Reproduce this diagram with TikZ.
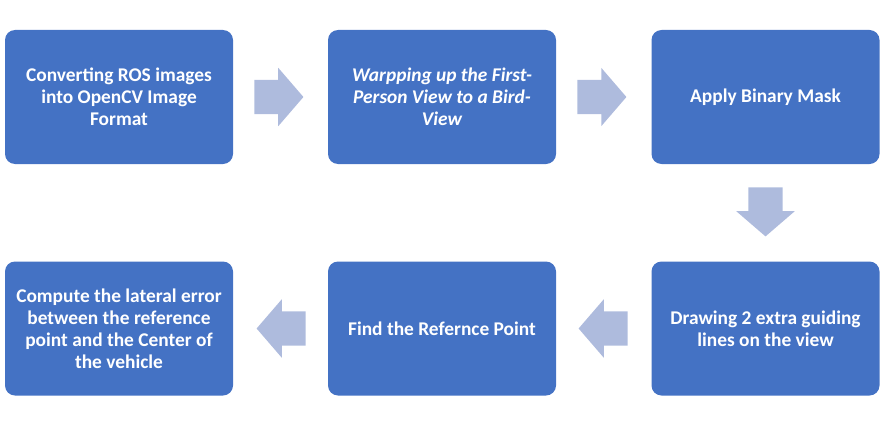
\documentclass[tikz,border=0pt]{standalone}
\usepackage{fontspec}
\setmainfont{Carlito}
\usetikzlibrary{shapes.arrows,calc}

\definecolor{boxblue}{HTML}{4472C4}
\definecolor{arrowblue}{RGB}{174,187,221}

\tikzset{
    stepbox/.style={fill=boxblue, rounded corners=10pt, minimum width=228pt, minimum height=134pt,
        text=white, align=center, font=\fontsize{19.4}{22}\selectfont\bfseries, inner sep=0pt},
    flowarrow/.style={single arrow, fill=arrowblue, inner sep=0pt, minimum height=49pt,
        single arrow head extend=12pt, single arrow tip angle=98.5, anchor=tail},
}

\begin{document}
\begin{tikzpicture}[x=1pt, y=1pt]
    \useasboundingbox (0,0) rectangle (882,424);
    % top row
    \node[stepbox] (convert) at (119,327) {Converting ROS images\\into OpenCV Image\\Format};
    \node[stepbox, font=\fontsize{19.4}{22}\selectfont\bfseries\itshape] (warp) at (442,327) {Warpping up the First-\\Person View to a Bird-\\View};
    \node[stepbox] (mask) at (765.5,327) {Apply Binary Mask};
    % bottom row
    \node[stepbox] (guide) at (765.5,95.5) {Drawing 2 extra guiding\\lines on the view};
    \node[stepbox] (refpt) at (442,95.5) {Find the Refernce Point};
    \node[stepbox] (lateral) at (119,95.5) {Compute the lateral error\\between the reference\\point and the Center of\\the vehicle};
    % block arrows
    \node[flowarrow] (a1) at ($(convert.east)+(21,0)$) {\rule{0pt}{34pt}};
    \node[flowarrow] (a2) at ($(warp.east)+(21,0)$) {\rule{0pt}{34pt}};
    \node[flowarrow, shape border rotate=270] (a3) at ($(mask.south)+(0,-23)$) {\rule{34pt}{0pt}};
    \node[flowarrow, shape border rotate=180] (a4) at ($(guide.west)+(-23.5,0)$) {\rule{0pt}{34pt}};
    \node[flowarrow, shape border rotate=180] (a5) at ($(refpt.west)+(-22,0)$) {\rule{0pt}{34pt}};
\end{tikzpicture}
\end{document}
